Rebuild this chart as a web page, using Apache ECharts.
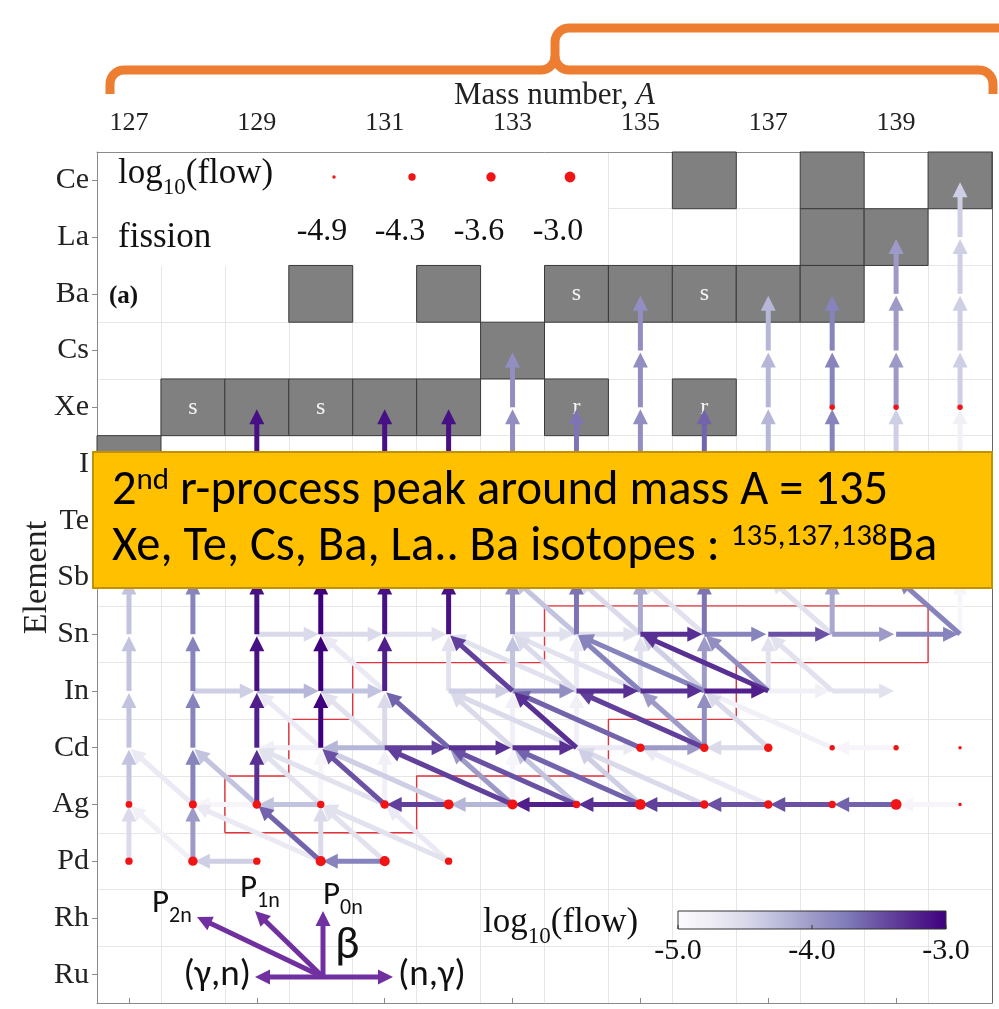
<!DOCTYPE html>
<html><head><meta charset="utf-8">
<script src="https://cdn.jsdelivr.net/npm/echarts@6/dist/echarts.min.js"></script>
<style>html,body{margin:0;padding:0;background:#fff}#c{width:999px;height:1009px}</style>
</head><body><div id="c"></div>
<script>
// ---------------- data ----------------
const elements = ['Ru','Rh','Pd','Ag','Cd','In','Sn','Sb','Te','I','Xe','Cs','Ba','La','Ce']; // Z = 44..58
const massFirst = 127, massLast = 140;
const massTickLabels = [127,129,131,133,135,137,139];
// stable isotopes: [A, element, mark]
const stableCells = [
  [136,'Ce',''],[138,'Ce',''],[140,'Ce',''],
  [138,'La',''],[139,'La',''],
  [130,'Ba',''],[132,'Ba',''],[134,'Ba','s'],[135,'Ba',''],[136,'Ba','s'],[137,'Ba',''],[138,'Ba',''],
  [133,'Cs',''],
  [128,'Xe','s'],[129,'Xe',''],[130,'Xe','s'],[131,'Xe',''],[132,'Xe',''],[134,'Xe','r'],[136,'Xe','r'],
  [127,'I',''],
  [128,'Te',''],[130,'Te','']
];
// fission flow dots: [A, element, log10(flow)]
const fissionFlows = [
  [138,'Xe',-4.6],[139,'Xe',-4.6],[140,'Xe',-4.6],
  [135,'Cd',-3.9],[136,'Cd',-3.9],[137,'Cd',-3.9],[138,'Cd',-4.6],[139,'Cd',-4.6],[140,'Cd',-4.9],
  [127,'Ag',-4.4],[128,'Ag',-4.1],[129,'Ag',-3.9],[130,'Ag',-4.3],[131,'Ag',-3.9],[132,'Ag',-3.3],[133,'Ag',-3.3],
  [134,'Ag',-4.3],[135,'Ag',-3.0],[136,'Ag',-3.9],[137,'Ag',-3.9],[138,'Ag',-4.3],[139,'Ag',-3.0],[140,'Ag',-4.9],
  [127,'Pd',-4.3],[128,'Pd',-3.6],[129,'Pd',-4.3],[130,'Pd',-3.3],[131,'Pd',-3.3],[132,'Pd',-4.3]
];
// beta decays (incl. delayed neutron emission): [A, element, neutrons emitted, log10(flow)]  (A,Z) -> (A-n, Z+1)
const betaFlows = [
  [127,'Pd',0,-4.5],[127,'Ag',0,-4.3],[127,'Cd',0,-4.3],[127,'In',0,-4.3],[127,'Sn',0,-4.3],[127,'Sb',0,-4.3],[127,'Te',0,-4.3],
  [128,'Pd',0,-4.0],[128,'Ag',0,-3.8],[128,'Cd',0,-3.8],[128,'In',0,-3.8],[128,'Sn',0,-3.8],[128,'Sb',0,-3.8],
  [129,'Ag',0,-3.3],[129,'Cd',0,-3.2],[129,'In',0,-3.1],[129,'Sn',0,-3.1],[129,'Sb',0,-3.1],[129,'Te',0,-3.1],[129,'I',0,-3.1],
  [130,'Pd',0,-4.5],[130,'Ag',0,-4.9],[130,'Cd',0,-3.0],[130,'In',0,-3.0],[130,'Sn',0,-3.0],[130,'Sb',0,-3.0],
  [131,'Ag',0,-4.8],[131,'Cd',0,-4.5],[131,'In',0,-3.2],[131,'Sn',0,-3.1],[131,'Sb',0,-3.1],[131,'Te',0,-3.1],[131,'I',0,-3.1],
  [132,'In',0,-4.6],[132,'Sn',0,-3.1],[132,'Sb',0,-3.1],[132,'Te',0,-3.1],[132,'I',0,-3.1],
  [133,'Ag',0,-4.9],[133,'Cd',0,-4.8],[133,'In',0,-4.3],[133,'Sn',0,-3.9],[133,'Sb',0,-3.9],[133,'Te',0,-3.9],[133,'I',0,-3.9],[133,'Xe',0,-3.9],
  [134,'Cd',0,-4.8],[134,'In',0,-4.7],[134,'Sn',0,-3.7],[134,'Sb',0,-3.7],[134,'Te',0,-3.7],[134,'I',0,-3.7],
  [135,'In',0,-4.6],[135,'Sn',0,-4.1],[135,'Sb',0,-3.9],[135,'Te',0,-3.9],[135,'I',0,-3.9],[135,'Xe',0,-3.9],[135,'Cs',0,-3.9],
  [136,'Cd',0,-3.9],[136,'In',0,-4.0],[136,'Sn',0,-3.7],[136,'Sb',0,-3.6],[136,'Te',0,-3.6],[136,'I',0,-3.6],
  [137,'In',0,-4.6],[137,'Sb',0,-4.3],[137,'Te',0,-4.3],[137,'I',0,-4.2],[137,'Xe',0,-4.2],[137,'Cs',0,-4.2],
  [138,'Sn',0,-4.1],[138,'Sb',0,-4.0],[138,'Te',0,-3.9],[138,'I',0,-3.8],[138,'Xe',0,-3.8],[138,'Cs',0,-3.8],
  [139,'Sb',0,-4.3],[139,'Te',0,-4.3],[139,'I',0,-4.4],[139,'Xe',0,-4.0],[139,'Cs',0,-4.0],[139,'Ba',0,-4.0],
  [140,'Sn',0,-4.9],[140,'Sb',0,-4.7],[140,'Te',0,-4.7],[140,'I',0,-4.8],[140,'Xe',0,-4.4],[140,'Cs',0,-4.4],[140,'Ba',0,-4.4],[140,'La',0,-4.4],
  [128,'Pd',1,-4.8],[130,'Pd',1,-3.6],[131,'Pd',1,-4.6],[132,'Pd',1,-4.7],
  [128,'Ag',1,-4.7],[129,'Ag',1,-4.3],[130,'Ag',1,-4.6],[131,'Ag',1,-3.5],[133,'Ag',1,-4.0],[134,'Ag',1,-4.3],[135,'Ag',1,-4.4],
  [130,'Cd',1,-4.7],[131,'Cd',1,-4.6],[132,'Cd',1,-3.6],[133,'Cd',1,-4.5],[134,'Cd',1,-3.3],[136,'Cd',1,-4.0],[137,'Cd',1,-4.5],
  [131,'In',1,-4.7],[133,'In',1,-3.4],[134,'In',1,-4.5],[135,'In',1,-3.8],[136,'In',1,-4.4],[137,'In',1,-3.9],[138,'In',1,-4.6],
  [134,'Sn',1,-4.3],[135,'Sn',1,-4.5],[136,'Sn',1,-4.6],[138,'Sn',1,-4.6],[140,'Sn',1,-3.8],
  [130,'Pd',2,-4.7],[132,'Pd',2,-4.6],
  [131,'Ag',2,-4.6],[132,'Ag',2,-4.4],[133,'Ag',2,-3.4],[134,'Ag',2,-3.5],[135,'Ag',2,-3.6],[136,'Ag',2,-4.5],[137,'Ag',2,-4.7],
  [134,'Cd',2,-4.5],[135,'Cd',2,-3.6],[136,'Cd',2,-3.4],[138,'Cd',2,-4.8],
  [134,'In',2,-4.6],[135,'In',2,-4.6],[136,'In',2,-3.8],[137,'In',2,-3.3]
];
// neutron capture (+1) / photodisintegration (-1): [A, element, direction, log10(flow)]
const neutronFlows = [
  [129,'Pd',-1,-4.4],[131,'Pd',-1,-3.8],
  [129,'Ag',-1,-4.9],[130,'Ag',-1,-4.3],[132,'Ag',-1,-3.4],[133,'Ag',-1,-4.2],[134,'Ag',-1,-3.2],[135,'Ag',-1,-3.3],
  [136,'Ag',-1,-3.4],[137,'Ag',-1,-3.5],[138,'Ag',-1,-3.5],[139,'Ag',-1,-3.6],[140,'Ag',-1,-4.9],
  [130,'Cd',-1,-4.8],[131,'Cd',-1,-4.2],[131,'Cd',1,-3.4],[132,'Cd',1,-3.3],[133,'Cd',1,-3.3],[134,'Cd',1,-4.7],
  [135,'Cd',1,-4.0],[137,'Cd',-1,-4.5],[139,'Cd',-1,-4.9],
  [128,'In',1,-4.4],[129,'In',1,-4.2],[130,'In',1,-4.3],[132,'In',1,-4.4],[133,'In',1,-3.9],[134,'In',1,-3.3],
  [135,'In',1,-3.3],[136,'In',1,-3.2],[137,'In',1,-4.8],[138,'In',1,-4.6],
  [129,'Sn',1,-4.5],[130,'Sn',1,-4.5],[131,'Sn',1,-4.6],[133,'Sn',1,-4.6],[134,'Sn',1,-4.6],[135,'Sn',1,-3.3],
  [136,'Sn',1,-3.8],[137,'Sn',1,-3.5],[138,'Sn',1,-4.0],[139,'Sn',1,-3.8]
];
// red boundary (cell-edge coordinates): [A, Z]
const boundaryPath = [
  [128.5,46.5],[128.5,47.5],[129.5,47.5],[129.5,48.5],[130.5,48.5],[130.5,49.5],[133.5,49.5],[133.5,50.5],
  [139.5,50.5],[139.5,49.5],[136.5,49.5],[136.5,48.5],[134.5,48.5],[134.5,47.5],[131.5,47.5],[131.5,46.5],[128.5,46.5]
];
const fissionLegendValues = [-4.9,-4.3,-3.6,-3.0];
const colorbarTicks = [-5.0,-4.0,-3.0];
const flowRange = [-5.0,-3.0];

// ---------------- helpers ----------------
const Z0 = 44;
const zOf = s => Z0 + elements.indexOf(s);
const X0 = massFirst - 0.5, Y0 = Z0 - 0.5;
const NX = massLast - massFirst + 1, NY = elements.length;
const purples = ['#fcfbfd','#efedf5','#dadaeb','#bcbddc','#9e9ac8','#807dba','#6a51a3','#54278f','#3f007d'];
function hex(c){return [parseInt(c.substr(1,2),16),parseInt(c.substr(3,2),16),parseInt(c.substr(5,2),16)];}
function flowColor(v){
  let t=(v-flowRange[0])/(flowRange[1]-flowRange[0]); t=Math.max(0,Math.min(1,t));
  const p=t*(purples.length-1), i=Math.min(purples.length-2,Math.floor(p)), f=p-i;
  const a=hex(purples[i]), b=hex(purples[i+1]);
  return 'rgb('+a.map((x,k)=>Math.round(x+(b[k]-x)*f)).join(',')+')';
}
const sizeKnots=[[-5.0,2.6],[-4.9,3.4],[-4.3,7.4],[-3.6,9.4],[-3.0,10.8]];
function dotSize(v){
  if(v<=sizeKnots[0][0]) return sizeKnots[0][1];
  for(let i=1;i<sizeKnots.length;i++){ if(v<=sizeKnots[i][0]){const [a,sa]=sizeKnots[i-1],[b,sb]=sizeKnots[i];return sa+(sb-sa)*(v-a)/(b-a);} }
  return sizeKnots[sizeKnots.length-1][1];
}
const arrows = [];
betaFlows.forEach(([A,el,n,v])=>{const z=zOf(el);arrows.push([A-X0,z-Y0,A-n-X0,z+1-Y0,v]);});
neutronFlows.forEach(([A,el,d,v])=>{const z=zOf(el);arrows.push([A-X0,z-Y0,A+d-X0,z-Y0,v]);});
arrows.sort((a,b)=>a[4]-b[4]);
const cellData = stableCells.map(([A,el])=>[A-X0,zOf(el)-Y0]);
const dotData = fissionFlows.map(([A,el,v])=>[A-X0,zOf(el)-Y0,v]);
const lineData = boundaryPath.map(([A,z])=>[A-X0,z-Y0]);

const SERIF='"Liberation Serif","Times New Roman",serif';
const SANS='Carlito,"Open Sans","Noto Sans",sans-serif';
const axisGrey='#8a8a8a';

const chart = echarts.init(document.getElementById('c'),null,{renderer:'canvas'});

const hidden = {axisLine:{show:false},axisTick:{show:false},axisLabel:{show:false},splitLine:{show:false}};
const option = {
  animation:false,
  backgroundColor:'#fff',
  grid:{left:97,right:7,top:152,bottom:6},
  xAxis:[
    {type:'value',min:0,max:NX,interval:1,position:'top',
     axisLine:{show:true,onZero:false,lineStyle:{color:axisGrey}},axisTick:{show:false},axisLabel:{show:false},
     splitLine:{show:true,lineStyle:{color:'#e6e6e6',width:1}}},
    {type:'value',min:0,max:NX,position:'top',...hidden,
     axisTick:{show:true,inside:false,length:5,customValues:massTickLabels.map(a=>a-X0),lineStyle:{color:axisGrey}},
     axisLabel:{show:true,customValues:massTickLabels.map(a=>a-X0),formatter:v=>String(Math.round(v+X0)),
       color:'#222',fontFamily:SERIF,fontSize:26,margin:16},
     name:'Mass number, {i|A}',nameLocation:'middle',nameGap:41,nameMoveOverlap:false,
     nameTextStyle:{color:'#222',fontFamily:SERIF,fontSize:31,padding:[0,0,0,20],rich:{i:{fontStyle:'italic',fontFamily:SERIF,fontSize:31,color:'#222'}}}},
    {type:'value',min:0,max:NX,position:'bottom',...hidden,axisLine:{show:true,onZero:false,lineStyle:{color:axisGrey}}}
  ],
  yAxis:[
    {type:'value',min:0,max:NY,interval:1,position:'left',
     axisLine:{show:true,onZero:false,lineStyle:{color:axisGrey}},axisTick:{show:false},axisLabel:{show:false},
     splitLine:{show:true,lineStyle:{color:'#e6e6e6',width:1}}},
    {type:'value',min:0,max:NY,position:'left',...hidden,
     axisTick:{show:true,inside:false,length:5,customValues:elements.map((e,i)=>i+0.5),lineStyle:{color:axisGrey}},
     axisLabel:{show:true,customValues:elements.map((e,i)=>i+0.5),formatter:v=>elements[Math.round(v-0.5)],
       color:'#222',fontFamily:SERIF,fontSize:30,margin:8},
     name:'Element',nameLocation:'middle',nameGap:43,nameRotate:90,nameMoveOverlap:false,
     nameTextStyle:{color:'#222',fontFamily:SERIF,fontSize:34}},
    {type:'value',min:0,max:NY,position:'right',...hidden,axisLine:{show:true,onZero:false,lineStyle:{color:'#666'}}}
  ],
  series:[
    {type:'custom',name:'stable',xAxisIndex:0,yAxisIndex:0,z:2,data:cellData,encode:{x:0,y:1},
     renderItem:(params,api)=>{
       const p1=api.coord([api.value(0)-0.5,api.value(1)+0.5]), p2=api.coord([api.value(0)+0.5,api.value(1)-0.5]);
       const mark=stableCells[params.dataIndex][2];
       const kids=[{type:'rect',shape:{x:p1[0],y:p1[1],width:p2[0]-p1[0],height:p2[1]-p1[1]},style:{fill:'#808080',stroke:'#3a3a3a',lineWidth:1}}];
       if(mark) kids.push({type:'text',style:{text:mark,x:(p1[0]+p2[0])/2,y:(p1[1]+p2[1])/2,align:'center',verticalAlign:'middle',fill:'#f4f4f4',font:'24px '+SERIF}});
       return {type:'group',children:kids};
     }},
    {type:'line',name:'boundary',xAxisIndex:0,yAxisIndex:0,z:3,data:lineData,symbol:'none',silent:true,
     lineStyle:{color:'#e3323c',width:1.4}},
    {type:'custom',name:'flows',xAxisIndex:0,yAxisIndex:0,z:4,data:arrows,encode:{x:[0,2],y:[1,3]},
     renderItem:(params,api)=>{
       const p1=api.coord([api.value(0),api.value(1)]), p2=api.coord([api.value(2),api.value(3)]);
       const col=flowColor(api.value(4));
       const dx=p2[0]-p1[0], dy=p2[1]-p1[1], L=Math.hypot(dx,dy), ux=dx/L, uy=dy/L, nx=-uy, ny=ux;
       const tip=[p2[0]-ux*2,p2[1]-uy*2], hl=15, hw=7.5;
       const base=[tip[0]-ux*hl,tip[1]-uy*hl];
       return {type:'group',children:[
         {type:'line',shape:{x1:p1[0],y1:p1[1],x2:base[0]+ux*3,y2:base[1]+uy*3},style:{stroke:col,lineWidth:5}},
         {type:'polygon',shape:{points:[tip,[base[0]+nx*hw,base[1]+ny*hw],[base[0]-nx*hw,base[1]-ny*hw]]},style:{fill:col}}
       ]};
     }},
    {type:'scatter',name:'fission',xAxisIndex:0,yAxisIndex:0,z:5,data:dotData,symbol:'circle',
     symbolSize:(val)=>dotSize(val[2]),itemStyle:{color:'#f01414',opacity:1}}
  ]
};
chart.setOption(option);

// ---------------- annotations ----------------
const gEls=[];
const subRichSerif=(big,small,pad)=>({m:{fontFamily:SERIF,fontSize:big,fill:'#111',verticalAlign:'bottom',padding:[0,0,pad,0]},s:{fontFamily:SERIF,fontSize:small,fill:'#111',verticalAlign:'bottom'}});
gEls.push({type:'rect',z:1,shape:{x:98,y:153,width:510,height:113},style:{fill:'#fff'}});
gEls.push({type:'text',z:10,style:{x:118,y:178,verticalAlign:'middle',text:'{m|log}{s|10}{m|(flow)}',rich:subRichSerif(35,23,8)}});
gEls.push({type:'text',z:10,style:{x:118,y:238,verticalAlign:'middle',text:'fission',font:'35px '+SERIF,fill:'#111'}});
const legX=[334,412,491,570];
fissionLegendValues.forEach((v,i)=>{
  gEls.push({type:'circle',z:10,shape:{cx:legX[i],cy:177,r:dotSize(v)/2},style:{fill:'#f01414'}});
  gEls.push({type:'text',z:10,style:{x:legX[i]-12,y:232,align:'center',verticalAlign:'middle',text:v.toFixed(1),font:'32px '+SERIF,fill:'#111'}});
});
gEls.push({type:'text',z:10,style:{x:109,y:297,verticalAlign:'middle',text:'(a)',font:'bold 25px '+SERIF,fill:'#111'}});
// colorbar
const cbX=678, cbY=911, cbW=268, cbH=18;
gEls.push({type:'rect',z:10,shape:{x:cbX,y:cbY,width:cbW,height:cbH},
  style:{fill:new echarts.graphic.LinearGradient(0,0,1,0,purples.map((c,i)=>({offset:i/(purples.length-1),color:c}))),stroke:'#333',lineWidth:1}});
colorbarTicks.forEach(v=>{
  const x=cbX+cbW*(v-flowRange[0])/(flowRange[1]-flowRange[0]);
  gEls.push({type:'line',z:11,shape:{x1:x,y1:cbY+cbH,x2:x,y2:cbY+cbH-4},style:{stroke:'#333',lineWidth:1}});
  gEls.push({type:'text',z:10,style:{x:x,y:951,align:'center',verticalAlign:'middle',text:v.toFixed(1),font:'30px '+SERIF,fill:'#111'}});
});
gEls.push({type:'text',z:10,style:{x:483,y:927,verticalAlign:'middle',text:'{m|log}{s|10}{m|(flow)}',rich:subRichSerif(35,23,8)}});
// reaction-type key
const PUR='#7030a0';
const key=[[393,977],[255,977],[323,911],[255,911],[197,917]];
const kc=[323,977];
key.forEach(p=>{
  const dx=p[0]-kc[0], dy=p[1]-kc[1], L=Math.hypot(dx,dy), ux=dx/L, uy=dy/L, nx=-uy, ny=ux, hl=15, hw=7.5;
  const b=[p[0]-ux*hl,p[1]-uy*hl];
  gEls.push({type:'line',z:12,shape:{x1:kc[0],y1:kc[1],x2:b[0]+ux*2,y2:b[1]+uy*2},style:{stroke:PUR,lineWidth:5}});
  gEls.push({type:'polygon',z:12,shape:{points:[p,[b[0]+nx*hw,b[1]+ny*hw],[b[0]-nx*hw,b[1]-ny*hw]]},style:{fill:PUR}});
});
gEls.push({type:'text',z:12,style:{x:398,y:976,verticalAlign:'middle',text:'(n,γ)',font:'37px '+SANS,fill:'#111'}});
gEls.push({type:'text',z:12,style:{x:251,y:976,align:'right',verticalAlign:'middle',text:'(γ,n)',font:'37px '+SANS,fill:'#111'}});
gEls.push({type:'text',z:12,style:{x:335,y:946,verticalAlign:'middle',text:'β',font:'46px '+SANS,fill:'#111'}});
const subRich={m:{fontFamily:SANS,fontSize:33,fill:'#111',verticalAlign:'bottom',padding:[0,0,7,0]},s:{fontFamily:SANS,fontSize:22,fill:'#111',verticalAlign:'bottom'}};
gEls.push({type:'text',z:12,style:{x:152,y:907,verticalAlign:'middle',text:'{m|P}{s|2n}',rich:subRich}});
gEls.push({type:'text',z:12,style:{x:240,y:892,verticalAlign:'middle',text:'{m|P}{s|1n}',rich:subRich}});
gEls.push({type:'text',z:12,style:{x:323,y:899,verticalAlign:'middle',text:'{m|P}{s|0n}',rich:subRich}});
// banner
gEls.push({type:'rect',z:100,shape:{x:93,y:452,width:899,height:136},style:{fill:'#ffc000',stroke:'#c29200',lineWidth:2}});
const banRich={m:{fontFamily:SANS,fontSize:48.5,fill:'#000',verticalAlign:'bottom'},s:{fontFamily:SANS,fontSize:31,fill:'#000',verticalAlign:'bottom',padding:[0,0,20,0]}};
gEls.push({type:'text',z:101,style:{x:112,y:491,verticalAlign:'middle',text:'{m|2}{s|nd}{m| r-process peak around mass A = 135}',rich:banRich}});
gEls.push({type:'text',z:101,style:{x:112,y:547,verticalAlign:'middle',text:'{m|Xe, Te, Cs, Ba, La.. Ba isotopes : }{s|135,137,138}{m|Ba}',rich:banRich}});
// orange bracket (rounded corners sampled as polyline points)
function arcPts(cx,cy,r,a0,a1){const out=[];for(let k=0;k<=10;k++){const a=(a0+(a1-a0)*k/10)*Math.PI/180;out.push([cx+r*Math.cos(a),cy+r*Math.sin(a)]);}return out;}
const R=14;
const bracketLeft=[[110,94],...arcPts(110+R,84,R,180,270),...arcPts(541,70-R,R,90,0),...arcPts(555+R,42,R,180,270),[1010,28]];
const bracketRight=[...arcPts(555+R,70-R,R,180,90),...arcPts(993-R,70+R,R,270,360),[993,94]];
[bracketLeft,bracketRight].forEach(pts=>gEls.push({type:'polyline',z:100,shape:{points:pts},style:{fill:null,stroke:'#ed7d31',lineWidth:9,lineJoin:'round'}}));
chart.setOption({graphic:{elements:gEls}});
</script>
</body></html>
